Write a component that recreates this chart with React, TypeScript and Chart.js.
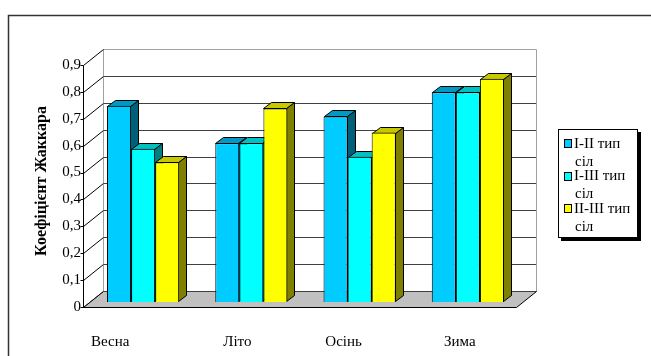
import React, { useEffect, useRef } from 'react';
import { Chart, registerables } from 'chart.js';

Chart.register(...registerables);

// ---- data ----
const CATEGORIES = ['Весна', 'Літо', 'Осінь', 'Зима'];
const SERIES_LABELS = ['I-II тип сіл', 'I-III тип сіл', 'II-III тип сіл'];
const SERIES_I_II = [0.73, 0.59, 0.69, 0.78];
const SERIES_I_III = [0.57, 0.59, 0.54, 0.78];
const SERIES_II_III = [0.52, 0.72, 0.63, 0.83];
const Y_MIN = 0;
const Y_MAX = 0.9;
const Y_STEP = 0.1;
const Y_TITLE = 'Коефіцієнт Жаккара';

// ---- styles ----
const FACE_COLORS = ['#00CCFF', '#00FFFF', '#FFFF00'];
const TOP_COLORS = ['#0099C4', '#00C0C0', '#C8C800'];
const SIDE_COLORS = ['#00607A', '#008080', '#808000'];
const SERIF = '"Liberation Serif", "Times New Roman", serif';
const DEPTH = { dx: 8, dy: -6 };
const BACK = { dx: 14, dy: -11 };
const FRONT = { dx: -6, dy: 5 };
const LABEL_DX = [-33, -14, -16, -8];
const LABEL_Y = 342;
const LEGEND_BOX = { x: 558, y: 129, w: 79, h: 108, shadow: 3 };

const px = (v: number) => Math.round(v) + 0.5;

const threeD = {
  id: 'threeD',
  beforeDatasetsDraw(chart: any) {
    const ctx = chart.ctx as CanvasRenderingContext2D;
    const a = chart.chartArea;
    const ys = chart.scales.y;
    const tickVals: number[] = ys.ticks.map((t: any) => t.value);
    const y0 = ys.getPixelForValue(Y_MIN);
    const yTop = ys.getPixelForValue(Y_MAX);
    const fL = a.left + FRONT.dx, fR = a.right + FRONT.dx, fY = y0 + FRONT.dy, fTop = yTop + FRONT.dy;
    const bL = a.left + BACK.dx, bR = a.right + BACK.dx, bY = y0 + BACK.dy, bTop = yTop + BACK.dy;
    ctx.save();
    ctx.lineWidth = 1;

    // back wall gridlines
    ctx.strokeStyle = '#404040';
    tickVals.forEach((v) => {
      if (v <= Y_MIN || v >= Y_MAX) return;
      const y = px(ys.getPixelForValue(v) + BACK.dy);
      ctx.beginPath();
      ctx.moveTo(px(bL), y);
      ctx.lineTo(px(bR), y);
      ctx.stroke();
    });
    // back wall outline
    ctx.strokeStyle = '#a0a0a0';
    ctx.beginPath();
    ctx.moveTo(px(bL), px(bY));
    ctx.lineTo(px(bL), px(bTop));
    ctx.lineTo(px(bR), px(bTop));
    ctx.lineTo(px(bR), px(bY));
    ctx.stroke();

    // left wall diagonals
    ctx.strokeStyle = '#000';
    tickVals.forEach((v) => {
      const p = ys.getPixelForValue(v);
      ctx.beginPath();
      ctx.moveTo(px(fL), px(p + FRONT.dy));
      ctx.lineTo(px(bL), px(p + BACK.dy));
      ctx.stroke();
      ctx.beginPath();
      ctx.moveTo(px(fL) - 3, px(p + FRONT.dy));
      ctx.lineTo(px(fL), px(p + FRONT.dy));
      ctx.stroke();
    });

    // floor
    ctx.fillStyle = '#C0C0C0';
    ctx.beginPath();
    ctx.moveTo(px(fL), px(fY));
    ctx.lineTo(px(fR), px(fY));
    ctx.lineTo(px(bR), px(bY));
    ctx.lineTo(px(bL), px(bY));
    ctx.closePath();
    ctx.fill();
    ctx.strokeStyle = '#404040';
    ctx.beginPath();
    ctx.moveTo(px(bL), px(bY));
    ctx.lineTo(px(bR), px(bY));
    ctx.stroke();
    ctx.strokeStyle = '#000';
    ctx.beginPath();
    ctx.moveTo(px(fL), px(fY));
    ctx.lineTo(px(fR), px(fY));
    ctx.lineTo(px(bR), px(bY));
    ctx.stroke();
    ctx.beginPath();
    ctx.moveTo(px(fL), px(fY));
    ctx.lineTo(px(bL), px(bY));
    ctx.stroke();

    // front axis line
    ctx.beginPath();
    ctx.moveTo(px(fL), px(fTop));
    ctx.lineTo(px(fL), px(fY));
    ctx.stroke();

    // bar top & side faces, left to right
    const n = chart.data.labels.length;
    for (let i = 0; i < n; i++) {
      chart.data.datasets.forEach((_: any, d: number) => {
        const meta = chart.getDatasetMeta(d);
        const el = meta.data[i];
        if (!el) return;
        const { x, y, base, width } = el.getProps(['x', 'y', 'base', 'width'], true);
        const l = Math.round(x - width / 2) + 0.5;
        const r = Math.round(x + width / 2) - 0.5;
        const t = Math.round(y) + 0.5;
        const b = Math.round(base) - 0.5;
        ctx.fillStyle = SIDE_COLORS[d];
        ctx.beginPath();
        ctx.moveTo(r, t);
        ctx.lineTo(r + DEPTH.dx, t + DEPTH.dy);
        ctx.lineTo(r + DEPTH.dx, b + DEPTH.dy);
        ctx.lineTo(r, b);
        ctx.closePath();
        ctx.fill();
        ctx.strokeStyle = '#000';
        ctx.stroke();
        ctx.fillStyle = TOP_COLORS[d];
        ctx.beginPath();
        ctx.moveTo(l, t);
        ctx.lineTo(l + DEPTH.dx, t + DEPTH.dy);
        ctx.lineTo(r + DEPTH.dx, t + DEPTH.dy);
        ctx.lineTo(r, t);
        ctx.closePath();
        ctx.fill();
        ctx.stroke();
      });
    }
    ctx.restore();
  },
  afterDraw(chart: any) {
    const ctx = chart.ctx as CanvasRenderingContext2D;
    const xs = chart.scales.x;
    ctx.save();
    ctx.fillStyle = '#000';
    ctx.font = `15px ${SERIF}`;
    ctx.textAlign = 'center';
    ctx.textBaseline = 'middle';
    chart.data.labels.forEach((lab: string, i: number) => {
      ctx.fillText(lab, xs.getPixelForValue(i) + LABEL_DX[i], LABEL_Y);
    });

    const L = LEGEND_BOX;
    ctx.fillStyle = '#000';
    ctx.fillRect(L.x + L.shadow, L.y + L.shadow, L.w + 1, L.h + 1);
    ctx.fillStyle = '#fff';
    ctx.fillRect(L.x, L.y, L.w, L.h);
    ctx.strokeStyle = '#000';
    ctx.lineWidth = 1;
    ctx.strokeRect(L.x + 0.5, L.y + 0.5, L.w, L.h);
    ctx.font = `15px ${SERIF}`;
    ctx.textAlign = 'left';
    ctx.textBaseline = 'middle';
    chart.data.datasets.forEach((ds: any, d: number) => {
      const cy = L.y + 15 + d * 32.5;
      ctx.fillStyle = ds.backgroundColor;
      ctx.fillRect(L.x + 7, Math.round(cy) - 4, 6, 7);
      ctx.strokeStyle = '#000';
      ctx.strokeRect(L.x + 6.5, Math.round(cy) - 4.5, 7, 8);
      const words = String(ds.label).split(' ');
      const last = words.pop();
      ctx.fillStyle = '#000';
      ctx.fillText(words.join(' '), L.x + 16, cy);
      ctx.fillText(String(last), L.x + 17, cy + 18);
    });

    ctx.strokeStyle = '#333';
    ctx.lineWidth = 1.5;
    ctx.beginPath();
    ctx.moveTo(8.5, chart.height + 5);
    ctx.lineTo(8.5, 15.5);
    ctx.lineTo(chart.width + 5, 15.5);
    ctx.stroke();
    ctx.restore();
  },
};

export default function App() {
  const ref = useRef<HTMLCanvasElement | null>(null);
  useEffect(() => {
    if (!ref.current) return;
    const chart = new Chart(ref.current, {
      type: 'bar',
      data: {
        labels: CATEGORIES,
        datasets: [
          { label: SERIES_LABELS[0], data: SERIES_I_II, backgroundColor: FACE_COLORS[0] },
          { label: SERIES_LABELS[1], data: SERIES_I_III, backgroundColor: FACE_COLORS[1] },
          { label: SERIES_LABELS[2], data: SERIES_II_III, backgroundColor: FACE_COLORS[2] },
        ].map((ds) => ({
          ...ds,
          borderColor: '#000',
          borderWidth: 1,
          categoryPercentage: 0.667,
          barPercentage: 1.0,
        })),
      },
      options: {
        responsive: false,
        devicePixelRatio: 1,
        animation: false,
        events: [],
        layout: { padding: { left: 24, right: 129, top: 60, bottom: 0 } },
        plugins: { legend: { display: false }, tooltip: { enabled: false }, title: { display: false } },
        scales: {
          x: {
            grid: { display: false, drawTicks: false },
            border: { display: false },
            ticks: { display: false },
            afterFit: (s: any) => { s.height = 54; },
          },
          y: {
            min: Y_MIN,
            max: Y_MAX,
            grid: { display: false, drawTicks: false },
            border: { display: false },
            ticks: {
              stepSize: Y_STEP,
              padding: 8,
              labelOffset: FRONT.dy,
              color: '#000',
              font: { family: SERIF, size: 15 },
              callback: (v: any) => {
                const r = Math.round(Number(v) * 10) / 10;
                return r === 0 ? '0' : r.toFixed(1).replace('.', ',');
              },
            },
            title: {
              display: true,
              text: Y_TITLE,
              color: '#000',
              font: { family: SERIF, size: 16, weight: 'bold' },
              padding: { top: 8, bottom: 0 },
            },
            afterFit: (s: any) => { s.width = 65; },
          },
        },
      },
      plugins: [threeD],
    } as any);
    return () => chart.destroy();
  }, []);
  return (
    <div style={{ position: 'absolute', left: 0, top: 0, width: 651, height: 356, background: '#fff' }}>
      <canvas ref={ref} width={651} height={356} style={{ display: 'block' }} />
    </div>
  );
}
